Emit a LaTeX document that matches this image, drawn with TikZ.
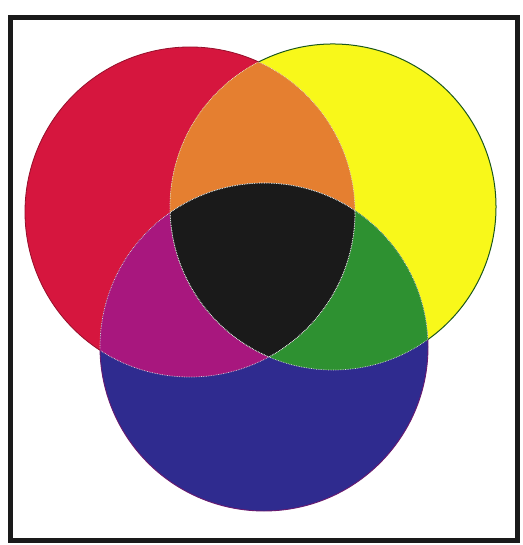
\documentclass[tikz,border=0pt]{standalone}
\usepackage{tikz}
\usepackage{xcolor}

\definecolor{redink}{HTML}{D6163E}
\definecolor{yellowink}{HTML}{F8F81A}
\definecolor{blueink}{HTML}{2F2B8F}
\definecolor{orangeink}{HTML}{E57F30}
\definecolor{purpleink}{HTML}{A8177E}
\definecolor{greenink}{HTML}{2E9131}
\definecolor{blackink}{HTML}{1A1A1A}

\begin{document}
\begin{tikzpicture}[x=1pt,y=-1pt]
    \useasboundingbox (0,0) rectangle (522,545);
    \fill[white] (0,0) rectangle (522,545);
    % the three circles
    \coordinate (R) at (190,212);
    \coordinate (Y) at (333,207);
    \coordinate (B) at (264,347);
    \def\redcirc{(R) circle (165pt)}
    \def\yelcirc{(Y) circle (163pt)}
    \def\bluecirc{(B) circle (164pt)}
    \fill[redink] \redcirc;
    \fill[yellowink] \yelcirc;
    \fill[blueink] \bluecirc;
    % two at a time
    \begin{scope}
        \clip \redcirc;
        \fill[orangeink] \yelcirc;
        \fill[purpleink] \bluecirc;
    \end{scope}
    \begin{scope}
        \clip \yelcirc;
        \fill[greenink] \bluecirc;
    \end{scope}
    % all three
    \begin{scope}
        \clip \redcirc;
        \clip \yelcirc;
        \fill[blackink] \bluecirc;
    \end{scope}
    % inner edges
    \begin{scope}
        \clip \yelcirc;
        \draw[white!75!gray, densely dotted, line width=0.7pt] \redcirc;
        \draw[white!75!gray, densely dotted, line width=0.7pt] \bluecirc;
    \end{scope}
    \begin{scope}
        \clip \bluecirc;
        \draw[white!75!gray, densely dotted, line width=0.7pt] \redcirc;
        \draw[white!75!gray, densely dotted, line width=0.7pt] \yelcirc;
    \end{scope}
    \begin{scope}
        \clip \redcirc;
        \draw[white!75!gray, densely dotted, line width=0.7pt] \yelcirc;
        \draw[white!75!gray, densely dotted, line width=0.7pt] \bluecirc;
    \end{scope}
    % outer edges
    \draw[redink!70!black, line width=0.8pt] (R) ++(65.4:165pt) arc (65.4:236.9:165pt);
    \draw[greenink!60!black, line width=1pt] (Y) ++(117.1:163pt) arc (117.1:-54.4:163pt);
    \draw[blueink!60!purple, line width=0.9pt] (B) ++(2.6:164pt) arc (2.6:-179:164pt);
    % frame
    \draw[blackink, line width=5pt] (10.5,17.5) rectangle (517.5,540.5);
\end{tikzpicture}
\end{document}
